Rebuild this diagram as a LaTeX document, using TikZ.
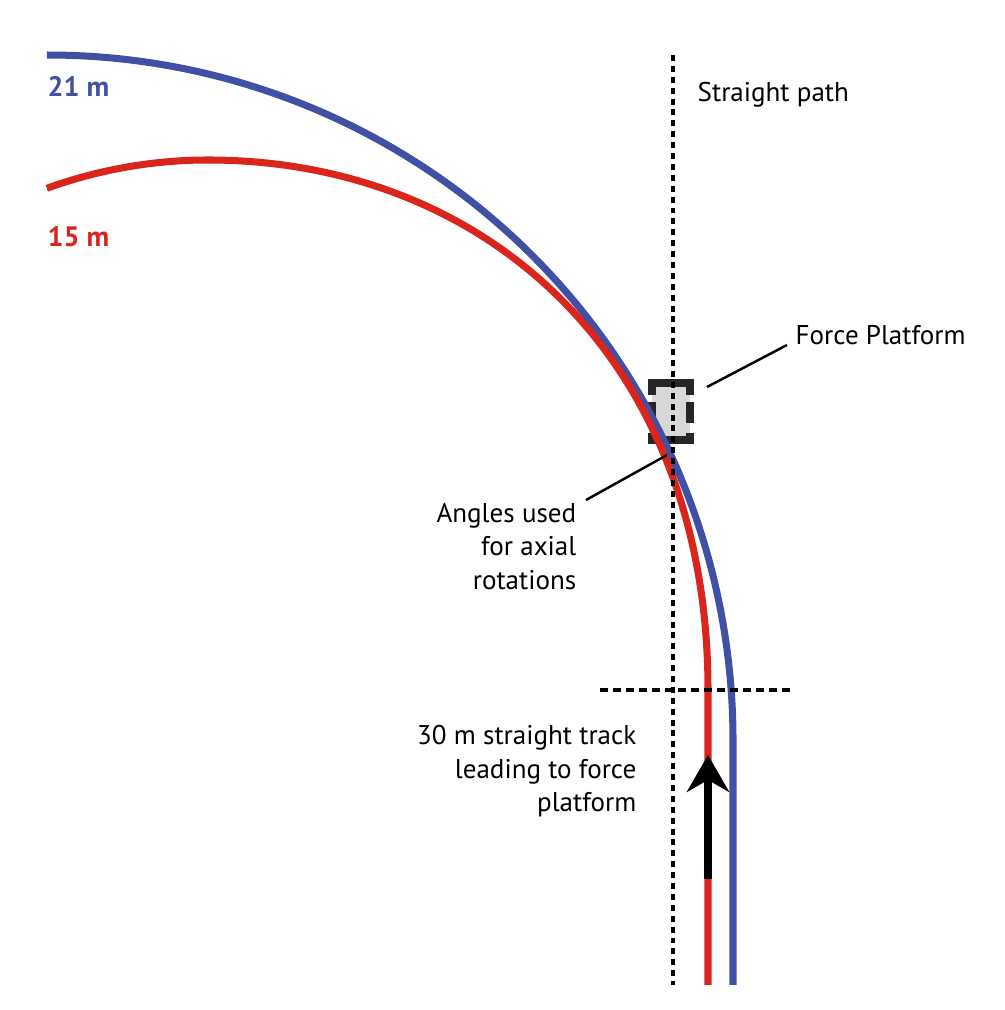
\documentclass[tikz,border=0pt]{standalone}
\usepackage{fontspec}
\setmainfont{PT Sans}
\usepackage{tikz}
\usetikzlibrary{arrows.meta, positioning, calc}
\definecolor{trackblue}{RGB}{64, 80, 164}
\definecolor{trackred}{RGB}{218, 37, 29}
\definecolor{platgray}{RGB}{216, 216, 216}

\begin{document}
\begin{tikzpicture}[
    track/.style={line width=2pt},
    vguide/.style={line width=0.9pt, dash pattern=on 1.7pt off 1.4pt},
    hguide/.style={line width=0.9pt, dash pattern=on 2.3pt off 1.4pt},
    platedge/.style={line width=2.4pt, black!85},
    leader/.style={line width=0.7pt},
    lbl/.style={font=\fontsize{7.7}{9.4}\selectfont, inner sep=0pt},
    radlbl/.style={font=\fontsize{8}{9.6}\selectfont\bfseries, inner sep=0pt, anchor=base west}
  ]
  \useasboundingbox (0,0) rectangle (10.05,10.10);

  % 测力台
  \fill[platgray] (6.52,5.70) rectangle (6.90,6.27);
  \draw[platedge] (6.52,6.15) -- (6.52,6.27) -- (6.90,6.27) -- (6.90,6.15);
  \draw[platedge] (6.52,5.77) -- (6.52,5.70) -- (6.90,5.70) -- (6.90,5.77);
  \foreach \x in {6.52,6.90}
    \draw[platedge] (\x,6.08) -- (\x,5.87);

  % 21 m 弯道
  \draw[track, trackblue] (7.33,0.25) -- (7.33,2.70)
    arc[start angle=0, end angle=90.1, radius=6.85];
  % 15 m 弯道
  \draw[track, trackred] (7.08,0.25) -- (7.08,3.20)
    .. controls (7.08,6.54) and (4.84,8.50) .. (2.08,8.50)
    arc[start angle=90, end angle=108.8, x radius=5.00, y radius=5.30];

  % 行进方向
  \draw[track, -{Stealth[length=10.5pt, width=12pt, inset=3.4pt]}] (7.08,1.31) -- (7.08,2.55);

  % 直线路径与直道终点
  \draw[vguide] (6.73,9.55) -- (6.73,0.25);
  \draw[hguide] (6.00,3.20) -- (7.95,3.20);

  % 文字
  \node[lbl, anchor=base west] (straight) at (6.97,9.08) {Straight path};
  \node[lbl, anchor=base west] (fp) at (7.95,6.65) {Force Platform};
  \node[lbl, align=right, anchor=north east] (angles) at (5.77,5.07)
    {Angles used\\for axial\\rotations};
  \node[lbl, align=right, anchor=north east] (lead) at (6.37,2.85)
    {30 m straight track\\leading to force\\platform};
  \node[radlbl, trackblue] (r21) at (0.47,9.13) {21 m};
  \node[radlbl, trackred] (r15) at (0.47,7.63) {15 m};

  % 引线
  \coordinate (fpend) at (7.07,6.23);
  \draw[leader] ([xshift=-0.08cm]fp.base west) -- (fpend);
  \coordinate (angend) at (6.67,5.55);
  \draw[leader] ([xshift=0.09cm,yshift=0.03cm]angles.north east) -- (angend);
\end{tikzpicture}
\end{document}
